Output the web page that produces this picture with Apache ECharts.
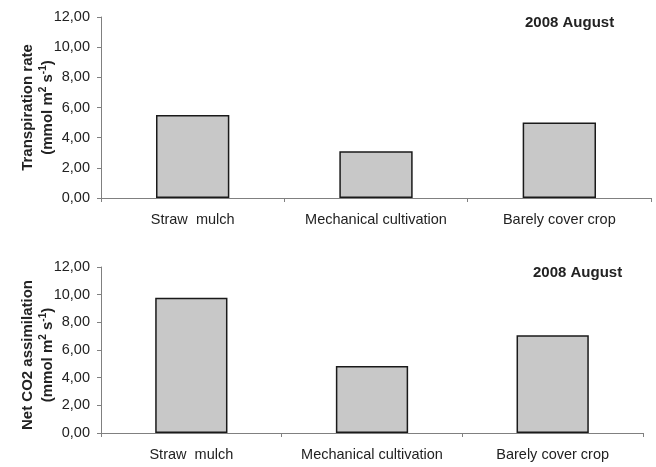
<!DOCTYPE html>
<html>
<head>
<meta charset="utf-8">
<script src="https://cdn.jsdelivr.net/npm/echarts@6/dist/echarts.min.js"></script>
<style>
  html, body { margin: 0; padding: 0; background: #fff; }
  #chart { width: 656px; height: 467px; }
</style>
</head>
<body>
<div id="chart"></div>
<script>
  // treatments and measured values
  const categories = ['Straw  mulch', 'Mechanical cultivation', 'Barely cover crop']
  const transpiration = [5.5, 3.1, 5.0]
  const assimilation = [9.78, 4.84, 7.06]
  const yTicks = {min: 0, max: 12, interval: 2}
  const periodLabel = '2008 August'

  const font = '"Liberation Sans", Arial, sans-serif'
  const textColor = '#222'
  const axisColor = '#808080'

  const fmt = v => v.toFixed(2).replace('.', ',')

  const nameRich = {
    b: {fontFamily: font, fontWeight: 'bold', fontSize: 15, color: textColor, lineHeight: 20},
    sup: {fontFamily: font, fontWeight: 'bold', fontSize: 10, color: textColor, verticalAlign: 'top', lineHeight: 20, padding: [0, 0, 7, 0]}
  }

  const xAxisOf = gridIndex => ({
    type: 'category',
    gridIndex,
    data: categories,
    axisLine: {lineStyle: {color: axisColor, width: 1}},
    axisTick: {show: true, alignWithLabel: false, length: 4, lineStyle: {color: axisColor}},
    axisLabel: {color: textColor, fontFamily: font, fontSize: 14.5, margin: 14, interval: 0}
  })

  const yAxisOf = (gridIndex, name, shift) => ({
    type: 'value',
    gridIndex,
    min: yTicks.min,
    max: yTicks.max,
    interval: yTicks.interval,
    name,
    nameLocation: 'middle',
    nameRotate: 90,
    nameGap: 43,
    nameMoveOverlap: false,
    nameTextStyle: {rich: nameRich, padding: shift},
    axisLine: {show: true, lineStyle: {color: axisColor, width: 1}},
    axisTick: {show: true, length: 4, lineStyle: {color: axisColor}},
    axisLabel: {color: textColor, fontFamily: font, fontSize: 14.5, margin: 11, formatter: fmt},
    splitLine: {show: false}
  })

  const barSeries = (idx, data) => ({
    type: 'bar',
    xAxisIndex: idx,
    yAxisIndex: idx,
    data,
    barWidth: '40%',
    itemStyle: {color: '#c8c8c8', borderColor: '#1a1a1a', borderWidth: 1.5},
    silent: true
  })

  const titleStyle = {fontFamily: font, fontWeight: 'bold', fontSize: 15, color: textColor}

  const chart = echarts.init(document.getElementById('chart'))
  chart.setOption({
    animation: false,
    backgroundColor: '#fff',
    title: [
      {text: periodLabel, left: 525, top: 15, padding: 0, textStyle: titleStyle},
      {text: periodLabel, left: 533, top: 265, padding: 0, textStyle: titleStyle}
    ],
    grid: [
      {left: 101, top: 17, width: 550, height: 181},
      {left: 101, top: 267, width: 542, height: 166}
    ],
    xAxis: [xAxisOf(0), xAxisOf(1)],
    yAxis: [
      yAxisOf(0, '{b|Transpiration rate}\n{b|(mmol m}{sup|2}{b| s}{sup|-1}{b|)}', [0, 0, 0, 0]),
      yAxisOf(1, '{b|Net CO2 assimilation}\n{b|(mmol m}{sup|2}{b| s}{sup|-1}{b|)}', [0, 10, 0, 0])
    ],
    series: [barSeries(0, transpiration), barSeries(1, assimilation)]
  })
</script>
</body>
</html>
